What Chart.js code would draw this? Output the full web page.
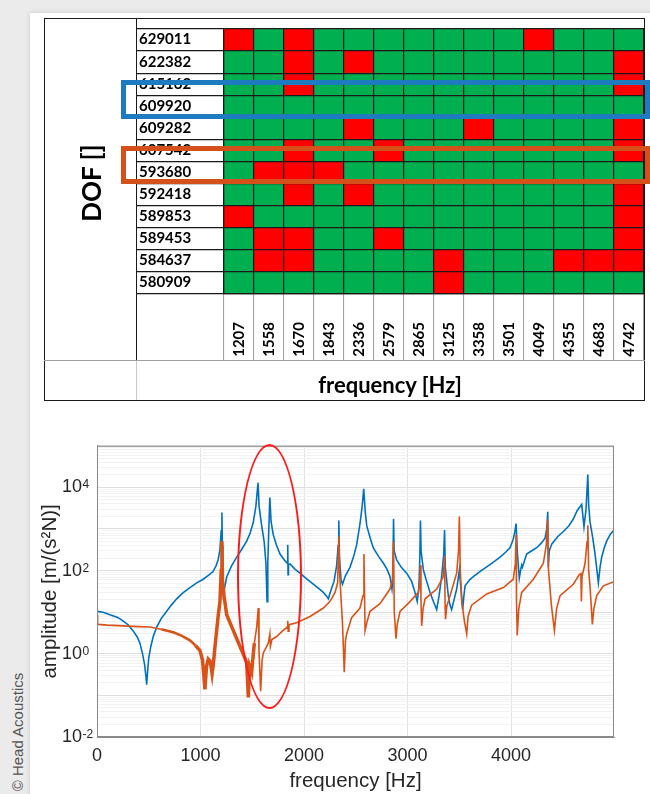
<!DOCTYPE html>
<html lang="en">
<head>
<meta charset="utf-8">
<title>DOF / frequency matrix and FRF</title>
<script src="https://cdn.jsdelivr.net/npm/chart.js@4.4.1/dist/chart.umd.min.js"></script>
<style>
  html, body { margin: 0; padding: 0; }
  body { width: 650px; height: 794px; position: relative; overflow: hidden; background: #ebebeb; }
  #hoja { position: absolute; left: 30px; top: 13px; width: 640px; height: 800px; background: #fff; box-shadow: 0 0 5px rgba(0,0,0,0.15); }
  #mapa { position: absolute; left: 136px; top: 17px; }
  #tabla { position: absolute; left: 44px; top: 18px; width: 601px; height: 383px; box-sizing: border-box; border: 1.5px solid #1a1a1a; }
  #sepCol { position: absolute; left: 135.5px; top: 18px; height: 342px; border-left: 1.5px solid #1a1a1a; }
  #sepCol2 { position: absolute; left: 135.5px; top: 360px; height: 40px; border-left: 1px solid #c8c8c8; }
  #sepFila { position: absolute; left: 44px; top: 359.5px; width: 601px; border-top: 1.5px solid #a0a0a0; }
  #dof { position: absolute; left: 91px; top: 183px; transform: translate(-50%, -50%) rotate(-90deg); font: 700 26px Lato, sans-serif; white-space: nowrap; }
  #freqTabla { position: absolute; left: 390px; top: 384px; transform: translate(-50%, -50%); font: 700 22px Lato, sans-serif; white-space: nowrap; }
  .marco { position: absolute; box-sizing: border-box; border: 5px solid; }
  #marcoAzul { left: 121px; top: 80px; width: 529px; height: 39px; border-color: #1f7bc0; }
  #marcoNaranja { left: 121px; top: 146px; width: 529px; height: 38px; border-color: #d5501a; }
  #frf { position: absolute; left: 30px; top: 420px; }
  #elipse { position: absolute; left: 237px; top: 444px; width: 65px; height: 265px; box-sizing: border-box; border: 2px solid #ff1a1a; border-radius: 50%; }
  #copy { position: absolute; left: 17px; top: 732px; transform: translate(-50%, -50%) rotate(-90deg); font: 15px "Liberation Sans", Arial, sans-serif; color: #555; white-space: nowrap; }
</style>
</head>
<body>
<div id="hoja"></div>
<canvas id="mapa" width="509" height="343"></canvas>
<div id="tabla"></div>
<div id="sepCol"></div>
<div id="sepCol2"></div>
<div id="sepFila"></div>
<div id="dof">DOF []</div>
<div id="freqTabla">frequency [Hz]</div>
<div id="marcoAzul" class="marco"></div>
<div id="marcoNaranja" class="marco"></div>
<canvas id="frf" width="620" height="374"></canvas>
<div id="elipse"></div>
<div id="copy">© Head Acoustics</div>

<script>
// --- matriz DOF x frecuencia (1 = rojo, 0 = verde) ---
const filasDOF = ['629011', '622382', '615162', '609920', '609282', '607542',
                  '593680', '592418', '589853', '589453', '584637', '580909'];
const frecuencias = ['1207', '1558', '1670', '1843', '2336', '2579', '2865',
                     '3125', '3358', '3501', '4049', '4355', '4683', '4742'];
const celdasRojas = [
    [1,0,1,0,0,0,0,0,0,0,1,0,0,0],
    [0,0,1,0,1,0,0,0,0,0,0,0,0,1],
    [0,0,1,0,0,0,0,0,0,0,0,0,0,1],
    [0,0,0,0,0,0,0,0,0,0,0,0,0,0],
    [0,0,0,0,1,0,0,0,1,0,0,0,0,1],
    [0,0,1,0,0,1,0,0,0,0,0,0,0,1],
    [0,1,1,1,0,0,0,0,0,0,0,0,0,0],
    [0,0,1,0,1,0,0,0,0,0,0,0,0,1],
    [1,0,0,0,0,0,0,0,0,0,0,0,0,1],
    [0,1,1,0,0,1,0,0,0,0,0,0,0,1],
    [0,1,1,0,0,0,0,1,0,0,0,1,1,1],
    [0,0,0,0,0,0,0,1,0,0,0,0,0,0]
];

// --- FRF: DOF 609920 (azul) ---
const freqAzul = [0, 60, 125, 200, 251, 300, 348, 390, 415, 440, 460, 472, 480, 488, 500, 520, 545, 577, 620, 673,
    720, 770, 830, 898, 960, 1025, 1080, 1121, 1150, 1170, 1188, 1200, 1207, 1211, 1216, 1222, 1230, 1253, 1300, 1350,
    1400, 1446, 1480, 1510, 1535, 1556, 1566, 1591, 1615, 1632, 1643, 1650, 1658, 1670, 1682, 1703, 1735, 1768, 1810, 1838,
    1843, 1846, 1850, 1865, 1910, 1961, 2020, 2090, 2150, 2187, 2215, 2236, 2250, 2270, 2290, 2315, 2330, 2336, 2343, 2358,
    2372, 2400, 2444, 2480, 2509, 2540, 2562, 2577, 2592, 2606, 2640, 2670, 2720, 2767, 2800, 2831, 2850, 2858, 2865, 2871,
    2895, 2940, 2992, 3040, 3072, 3094, 3110, 3119, 3125, 3131, 3153, 3185, 3217, 3250, 3282, 3305, 3330, 3350, 3358, 3365,
    3394, 3410, 3426, 3450, 3475, 3495, 3501, 3515, 3533, 3545, 3556, 3600, 3636, 3700, 3765, 3830, 3894, 3950, 3990, 4020,
    4035, 4049, 4060, 4080, 4095, 4103, 4110, 4151, 4200, 4248, 4290, 4329, 4345, 4355, 4360, 4370, 4393, 4450, 4506, 4560,
    4602, 4640, 4683, 4705, 4725, 4742, 4750, 4763, 4790, 4812, 4844, 4860, 4876, 4900, 4924, 4960, 4995];
const ampAzul = [10.5, 10, 8.7, 7.5, 6.2, 5, 3.6, 2.5, 1.8, 1.0, 0.55, 0.3, 0.18, 0.35, 0.8, 1.5, 2.7, 4.4, 7, 10.5,
    15, 21, 29, 39, 50, 62, 78, 95, 130, 180, 320, 900, 2500, 400, 80, 20, 35, 70, 130, 210,
    330, 510, 800, 1450, 3500, 13000, 3500, 1200, 500, 150, 18, 150, 700, 5700, 1500, 720, 400, 250, 180, 150,
    420, 80, 140, 145, 110, 87, 65, 47, 36, 30, 25, 21, 28, 40, 55, 130, 400, 1600, 200, 60,
    47, 75, 120, 220, 420, 1300, 3500, 9300, 2500, 1200, 600, 350, 220, 150, 110, 72, 36, 60, 1750, 300,
    180, 120, 87, 55, 30, 18, 40, 200, 1600, 300, 105, 55, 30, 18, 11.5, 25, 72, 250, 950, 120,
    25, 15, 11.5, 20, 36, 80, 105, 40, 11.5, 25, 43, 60, 72, 95, 123, 160, 210, 280, 355, 550,
    800, 1350, 300, 66, 110, 135, 120, 250, 300, 355, 450, 600, 1000, 2600, 120, 300, 430, 650, 870, 1200,
    1740, 2800, 3900, 1120, 3000, 20400, 4000, 1500, 600, 250, 51, 120, 210, 350, 510, 750, 940];

// --- FRF: DOF 593680 (naranja) ---
const freqNaranja = [0, 6, 13, 100, 254, 400, 512, 620, 737, 820, 898, 950, 995, 1020, 1043, 1058, 1075, 1095, 1112, 1125,
    1140, 1172, 1188, 1200, 1207, 1212, 1227, 1253, 1317, 1382, 1446, 1462, 1475, 1494, 1520, 1543, 1558, 1565, 1581, 1595,
    1607, 1655, 1670, 1675, 1690, 1736, 1790, 1838, 1843, 1847, 1855, 1929, 2058, 2187, 2250, 2300, 2325, 2336, 2345, 2372,
    2389, 2400, 2412, 2460, 2541, 2570, 2579, 2590, 2610, 2638, 2734, 2831, 2855, 2865, 2872, 2889, 2900, 2928, 3024, 3105,
    3118, 3125, 3130, 3137, 3150, 3170, 3282, 3346, 3358, 3363, 3367, 3380, 3411, 3475, 3493, 3501, 3510, 3524, 3550, 3572,
    3585, 3620, 3765, 3926, 4022, 4042, 4049, 4053, 4060, 4075, 4103, 4216, 4312, 4340, 4355, 4362, 4390, 4419, 4440, 4474,
    4602, 4660, 4675, 4680, 4686, 4715, 4735, 4742, 4750, 4763, 4786, 4800, 4828, 4892, 4995];
const ampNaranja = [8.7, 5.5, 5.1, 4.9, 4.7, 4.5, 4.4, 3.9, 3.3, 2.7, 2.1, 1.6, 1.2, 0.7, 0.14, 0.5, 0.74, 0.65, 0.33, 0.6,
    1.5, 8.7, 18, 100, 510, 60, 25, 8.7, 3.6, 1.5, 0.62, 0.09, 0.5, 0.36, 1.8, 4.4, 12.6, 1.2, 0.126, 0.7,
    1.05, 1.8, 3.0, 1.5, 2.2, 2.6, 3.5, 4.4, 6.2, 3.5, 5, 5.6, 7.9, 12.6, 18, 30, 51, 660, 80, 5.1,
    0.36, 2, 3.0, 7.4, 12.6, 25, 250, 3.6, 6, 10.5, 16, 36, 60, 510, 10, 2.3, 5, 10.5, 18, 30,
    50, 135, 20, 4.7, 12, 21, 36, 72, 230, 15, 6.8, 14, 25, 87, 300, 2000, 100, 18, 6, 3.0,
    8, 14.8, 27.5, 39, 62, 150, 720, 20, 2.75, 12, 30, 62, 148, 400, 1740, 105, 15, 3.6, 12, 25,
    47, 80, 85, 18, 72, 148, 500, 1230, 100, 43, 5.1, 12, 25, 43, 54];

const exponentesY = [-2, 0, 2, 4];          // etiquetas 10^e del eje y
const ticksX = [0, 1000, 2000, 3000, 4000];

// ---------- mapa de colores (barras apiladas) ----------
const verde = '#00b050';
const rojo = '#ff0000';
const filasAbajoArriba = filasDOF.slice().reverse();

const datasetsMapa = filasAbajoArriba.map(function (dof) {
    const fila = celdasRojas[filasDOF.indexOf(dof)];
    return {
        label: dof,
        data: fila.map(() => 1),
        backgroundColor: fila.map(r => r ? rojo : verde),
        borderWidth: 0,
        barPercentage: 1,
        categoryPercentage: 1
    };
});

const fuenteTabla = { family: 'Lato', weight: 'bold', size: 15 };

new Chart(document.getElementById('mapa'), {
    type: 'bar',
    data: { labels: frecuencias, datasets: datasetsMapa },
    options: {
        responsive: false,
        animation: false,
        events: [],
        layout: { padding: { left: 3, right: 1, top: 1, bottom: 0 } },
        plugins: { legend: { display: false }, tooltip: { enabled: false } },
        scales: {
            x: {
                stacked: true,
                afterFit: s => { s.height = 66; },
                grid: { z: 1, color: '#1a1a1a', lineWidth: 1.2, tickLength: 66, tickColor: '#9a9a9a', tickWidth: 1 },
                border: { z: 1, color: '#1a1a1a', width: 1.2 },
                ticks: { autoSkip: false, minRotation: 90, maxRotation: 90, padding: -38, color: '#000', font: fuenteTabla }
            },
            y: {
                stacked: true,
                min: 0,
                max: filasDOF.length,
                afterBuildTicks: s => { s.ticks = filasDOF.map((_, i) => ({ value: i })).concat({ value: filasDOF.length }); },
                afterFit: s => { s.width = 85; },
                grid: { z: 1, color: '#1a1a1a', lineWidth: 1.2, tickLength: 88, tickColor: '#1a1a1a', tickWidth: 1.2 },
                border: { z: 1, color: '#1a1a1a', width: 1.2 },
                ticks: {
                    crossAlign: 'far',
                    labelOffset: -11.5,
                    color: '#000',
                    font: fuenteTabla,
                    callback: v => filasAbajoArriba[v] || ''
                }
            }
        }
    }
});

// ---------- FRF ----------
function puntos(frecs, amps) {
    return frecs.map((f, i) => ({ x: f, y: amps[i] }));
}

function esDecada(v) {
    const e = Math.log10(v);
    return Math.abs(e - Math.round(e)) < 1e-6;
}

const ticksLog = [];
for (let e = -2; e <= 4; e++) {
    for (let m = 1; m <= 9; m++) ticksLog.push(m * Math.pow(10, e));
}
ticksLog.push(1e5);

const marcoEjes = {
    id: 'marcoEjes',
    afterDraw(chart) {
        const { ctx, chartArea: a } = chart;
        ctx.save();
        ctx.strokeStyle = '#8a8a8a';
        ctx.lineWidth = 1;
        ctx.strokeRect(a.left + 0.5, a.top + 0.5, a.width - 1, a.height - 1);
        ctx.restore();
    }
};

// dibuja el exponente junto a cada etiqueta "10" del eje y
const exponentes = {
    id: 'exponentes',
    afterDraw(chart) {
        const { ctx } = chart;
        const s = chart.scales.y;
        ctx.save();
        ctx.font = '12px "Liberation Sans"';
        ctx.fillStyle = '#262626';
        ctx.textAlign = 'left';
        ctx.textBaseline = 'alphabetic';
        exponentesY.forEach(e => {
            const y = s.getPixelForValue(Math.pow(10, e));
            ctx.fillText(String(e), s.right - 15 + 0.5, y + 1);
        });
        ctx.restore();
    }
};

const fuenteEje = { family: 'Liberation Sans', size: 18 };
const fuenteTitulo = { family: 'Liberation Sans', size: 20.5 };

new Chart(document.getElementById('frf'), {
    type: 'line',
    data: {
        datasets: [
            {
                label: 'DOF 593680',
                data: puntos(freqNaranja, ampNaranja),
                borderColor: '#d95319',
                borderWidth: 1.6,
                pointRadius: 0,
                order: 0,
                segment: {
                    borderWidth: ctx => {
                        const x = ctx.p0.parsed.x;
                        if (x >= 900 && x < 1500) return 3.5;
                        if (x >= 600 && x < 900) return 2.6;
                        return 1.6;
                    }
                }
            },
            {
                label: 'DOF 609920',
                data: puntos(freqAzul, ampAzul),
                borderColor: '#0072bd',
                borderWidth: 1.6,
                pointRadius: 0,
                order: 1
            }
        ]
    },
    options: {
        responsive: false,
        animation: false,
        events: [],
        layout: { padding: { top: 14, right: 36, left: 0, bottom: 0 } },
        plugins: { legend: { display: false }, tooltip: { enabled: false } },
        scales: {
            x: {
                type: 'linear',
                min: 0,
                max: 4995,
                afterBuildTicks: s => { s.ticks = ticksX.map(v => ({ value: v })); },
                afterFit: s => { s.height = 57; },
                grid: { color: '#e1e1e1', drawTicks: false },
                border: { color: '#8a8a8a' },
                ticks: { padding: 8, maxRotation: 0, color: '#262626', font: fuenteEje, callback: v => String(v) },
                title: { display: true, text: 'frequency [Hz]', color: '#262626', font: fuenteTitulo, padding: { top: 0, bottom: 0 } }
            },
            y: {
                type: 'logarithmic',
                min: 0.01,
                max: 1e5,
                afterBuildTicks: s => { s.ticks = ticksLog.map(v => ({ value: v })); },
                afterFit: s => { s.width = 67; },
                grid: {
                    drawTicks: false,
                    color: ctx => esDecada(ctx.tick.value) ? '#dedede' : '#f2f2f2'
                },
                border: { color: '#8a8a8a' },
                ticks: {
                    autoSkip: false,
                    padding: 15,
                    color: '#262626',
                    font: fuenteEje,
                    callback: v => (esDecada(v) && exponentesY.includes(Math.round(Math.log10(v)))) ? '10' : ''
                },
                title: { display: true, text: 'amplitude [m/(s²N)]', color: '#262626', font: fuenteTitulo, padding: { top: 8, bottom: 0 } }
            }
        }
    },
    plugins: [marcoEjes, exponentes]
});
</script>
</body>
</html>
